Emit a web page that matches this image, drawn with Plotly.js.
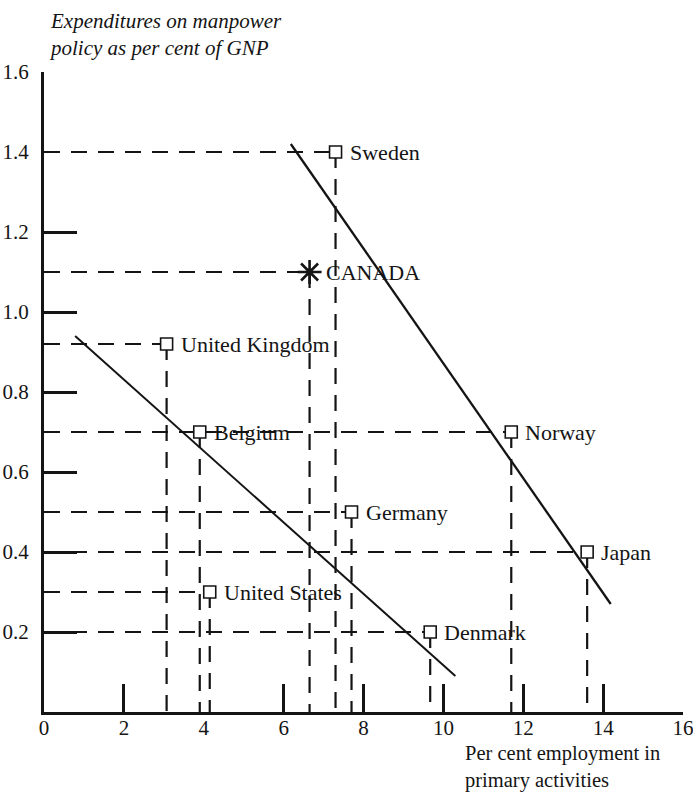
<!DOCTYPE html>
<html>
<head>
<meta charset="utf-8">
<script src="https://cdn.plot.ly/plotly-3.0.1.min.js"></script>
<style>html,body{margin:0;padding:0;background:#fff;}#chart{width:693px;height:794px;}</style>
</head>
<body>
<div id="chart"></div>
<script>
// ---- data ----
const countries = ['Sweden', 'CANADA', 'United Kingdom', 'Belgium', 'Norway', 'Germany', 'Japan', 'United States', 'Denmark'];
const primaryEmployment = [7.3, 6.65, 3.07, 3.9, 11.7, 7.7, 13.6, 4.15, 9.67];
const manpowerSpending = [1.4, 1.1, 0.92, 0.7, 0.7, 0.5, 0.4, 0.3, 0.2];
const lineA_x = [0.78, 10.3];
const lineA_y = [0.94, 0.09];
const lineB_x = [6.18, 14.19];
const lineB_y = [1.42, 0.27];
const xTickVals = [0, 2, 4, 6, 8, 10, 12, 14, 16];
const xTickMarks = [2, 6, 8, 10, 12, 14, 16];
const yTickVals = [0.2, 0.4, 0.6, 0.8, 1.0, 1.2, 1.4, 1.6];
const yTickMarks = [0.2, 0.4, 0.6, 0.8, 1.0, 1.2, 1.6];
const yTitleText = 'Expenditures on manpower<br>policy as per cent of GNP';
const xTitleText = 'Per cent employment in<br>primary activities';

const FONT = 'Liberation Serif, Times New Roman, serif';
const INK = '#141414';

// dashed guide lines built from the data
const gx = [], gy = [];
for (let i = 0; i < countries.length; i++) {
  gx.push(0, primaryEmployment[i], null, primaryEmployment[i], primaryEmployment[i], null);
  gy.push(manpowerSpending[i], manpowerSpending[i], null, manpowerSpending[i], 0, null);
}

const isCanada = countries.map(c => c === 'CANADA');
const sqX = primaryEmployment.filter((v, i) => !isCanada[i]);
const sqY = manpowerSpending.filter((v, i) => !isCanada[i]);
const caX = primaryEmployment.filter((v, i) => isCanada[i]);
const caY = manpowerSpending.filter((v, i) => isCanada[i]);

const traces = [
  {x: gx, y: gy, mode: 'lines', line: {color: INK, width: 2.2, dash: '16px,11px'}, hoverinfo: 'skip', showlegend: false},
  {x: lineA_x, y: lineA_y, mode: 'lines', line: {color: INK, width: 2}, showlegend: false},
  {x: lineB_x, y: lineB_y, mode: 'lines', line: {color: INK, width: 2.3}, showlegend: false},
  {x: sqX, y: sqY, mode: 'markers', marker: {symbol: 'square', size: 12, color: '#fff', line: {color: INK, width: 1.6}}, showlegend: false},
  {x: caX, y: caY, mode: 'markers', marker: {symbol: 'asterisk-open', size: 20, color: INK, line: {color: INK, width: 2.6}}, showlegend: false},
  {x: [null], y: [null], xaxis: 'x2', yaxis: 'y2', mode: 'markers', showlegend: false, hoverinfo: 'skip'}
];

const annotations = countries.map((c, i) => ({
  x: primaryEmployment[i], y: manpowerSpending[i], xref: 'x', yref: 'y',
  text: c, showarrow: false, xanchor: 'left', yanchor: 'middle',
  xshift: c === 'CANADA' ? 14 : 12, yshift: 0,
  font: {family: FONT, size: 22, color: INK}
}));
annotations.push({
  text: '<i>' + yTitleText + '</i>', xref: 'paper', yref: 'paper', x: 0.004, y: 1.058,
  xanchor: 'left', yanchor: 'middle', align: 'left', showarrow: false,
  font: {family: FONT, size: 21, color: INK}
});
annotations.push({
  text: xTitleText, xref: 'paper', yref: 'paper', x: 0.655, y: -0.0855,
  xanchor: 'left', yanchor: 'middle', align: 'left', showarrow: false,
  font: {family: FONT, size: 20.5, color: INK}
});

const layout = {
  width: 693, height: 794,
  margin: {l: 44, r: 10, t: 72, b: 82},
  paper_bgcolor: '#fff', plot_bgcolor: '#fff',
  showlegend: false,
  font: {family: FONT, color: INK},
  xaxis: {
    range: [0, 16], tickvals: xTickVals, ticks: '', showline: true, linewidth: 3, linecolor: INK,
    showgrid: false, zeroline: false, tickfont: {family: FONT, size: 21, color: INK},
    ticklabelstandoff: -5, ticklabeloverflow: 'allow', fixedrange: true
  },
  yaxis: {
    range: [0, 1.6], tickvals: yTickVals, tickformat: '.1f', ticks: '', showline: true, linewidth: 3, linecolor: INK,
    showgrid: false, zeroline: false, tickfont: {family: FONT, size: 21, color: INK},
    ticklabelstandoff: 8, ticklabeloverflow: 'allow', fixedrange: true
  },
  xaxis2: {
    overlaying: 'x', anchor: 'y2', side: 'bottom', range: [0, 16], tickvals: xTickMarks,
    ticks: 'inside', ticklen: 28, tickwidth: 3, tickcolor: INK, showticklabels: false,
    showline: false, showgrid: false, zeroline: false, fixedrange: true
  },
  yaxis2: {
    overlaying: 'y', anchor: 'x2', side: 'left', range: [0, 1.6], tickvals: yTickMarks,
    ticks: 'inside', ticklen: 33, tickwidth: 3, tickcolor: INK, showticklabels: false,
    showline: false, showgrid: false, zeroline: false, fixedrange: true
  },
  annotations: annotations
};

Plotly.newPlot('chart', traces, layout, {displayModeBar: false, staticPlot: true});
</script>
</body>
</html>
